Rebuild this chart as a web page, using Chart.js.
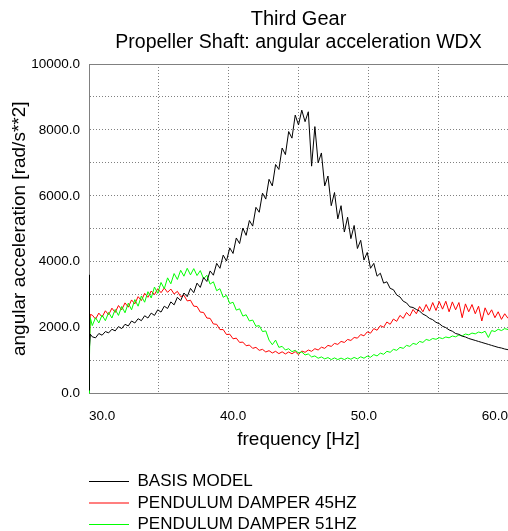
<!DOCTYPE html>
<html>
<head>
<meta charset="utf-8">
<script src="https://cdn.jsdelivr.net/npm/chart.js@4"></script>
<style>
html, body { margin: 0; padding: 0; background: #fff; overflow: hidden; }
#wrap { width: 508px; height: 531px; overflow: hidden; }
</style>
</head>
<body>
<div id="wrap"><canvas id="myChart" width="508" height="543"></canvas></div>
<script>
// frequency [Hz]
var freq = [29, 29.02, 29.05, 29.1,
  29.25, 29.5, 29.75, 30,  30.25, 30.5, 30.75, 31,  31.25, 31.5, 31.75, 32,  32.25, 32.5, 32.75, 33,
  33.25, 33.5, 33.75, 34,  34.25, 34.5, 34.75, 35,  35.25, 35.5, 35.75, 36,  36.25, 36.5, 36.75, 37,
  37.25, 37.5, 37.75, 38,  38.25, 38.5, 38.75, 39,  39.25, 39.5, 39.75, 40,  40.25, 40.5, 40.75, 41,
  41.25, 41.5, 41.75, 42,  42.25, 42.5, 42.75, 43,  43.25, 43.5, 43.75, 44,  44.25, 44.5, 44.75, 45,
  45.25, 45.5, 45.75, 46,  46.25, 46.5, 46.75, 47,  47.25, 47.5, 47.75, 48,  48.25, 48.5, 48.75, 49,
  49.25, 49.5, 49.75, 50,  50.25, 50.5, 50.75, 51,  51.25, 51.5, 51.75, 52,  52.25, 52.5, 52.75, 53,
  53.25, 53.5, 53.75, 54,  54.25, 54.5, 54.75, 55,  55.25, 55.5, 55.75, 56,  56.25, 56.5, 56.75, 57,
  57.25, 57.5, 57.75, 58,  58.25, 58.5, 58.75, 59,  59.25, 59.5, 59.75, 60,  60.25, 60.5, 60.75, 61];

var basisModel = [100, 3600, 1400, 1800,
  1720, 1690, 1820, 1770,  1880, 1840, 1950, 1900,  2030, 1970, 2100, 2050,  2200, 2140, 2270, 2210,
  2360, 2290, 2440, 2370,  2540, 2470, 2650, 2580,  2780, 2690, 2920, 2820,  3050, 2940, 3190, 3060,
  3350, 3220, 3520, 3400,  3720, 3590, 3950, 3800,  4200, 4020, 4420, 4250,  4720, 4550, 5020, 4800,
  5250, 5080, 5650, 5500,  6080, 5900, 6500, 6300,  6950, 6800, 7450, 7250,  7950, 7750, 8450, 8150,
  8600, 8250, 8550, 6900,  8100, 7000, 7300, 6300,  6600, 5700, 6100, 5300,  5700, 4900, 5350, 4700,
  5100, 4400, 4650, 4050,  4280, 3800, 3950, 3560,  3650, 3350, 3390, 3190,  3150, 2990, 2930, 2800,
  2750, 2630, 2610, 2550,  2500, 2410, 2360, 2280,  2240, 2160, 2120, 2040,  2000, 1930, 1890, 1820,
  1795, 1740, 1715, 1670,  1640, 1610, 1580, 1550,  1520, 1490, 1460, 1430,  1400, 1380, 1350, 1330];

var damper45 = [900, 2800, 1600, 2400,
  2380, 2260, 2440, 2320,  2510, 2390, 2590, 2460,  2670, 2540, 2750, 2620,  2840, 2720, 2940, 2820,
  3040, 2920, 3110, 3000,  3180, 3060, 3200, 3070,  3170, 3020, 3100, 2940,  2980, 2810, 2830, 2650,
  2640, 2470, 2460, 2290,  2280, 2110, 2100, 1940,  1940, 1790, 1800, 1660,  1680, 1550, 1560, 1450,
  1470, 1370, 1400, 1310,  1340, 1260, 1300, 1230,  1280, 1210, 1265, 1200,  1260, 1205, 1270, 1180,
  1290, 1250, 1320, 1280,  1360, 1320, 1405, 1370,  1460, 1430, 1520, 1490,  1580, 1550, 1640, 1610,
  1700, 1680, 1790, 1750,  1870, 1830, 1970, 1920,  2060, 2010, 2170, 2100,  2260, 2190, 2370, 2280,
  2460, 2350, 2550, 2420,  2640, 2480, 2700, 2500,  2760, 2520, 2790, 2560,  2800, 2480, 2780, 2540,
  2760, 2300, 2720, 2480,  2700, 2420, 2650, 2200,  2600, 2380, 2540, 2300,  2480, 2250, 2420, 2280];

var damper51 = [0, 3000, 1100, 2300,
  2060, 2300, 2140, 2380,  2210, 2460, 2290, 2550,  2370, 2640, 2450, 2740,  2540, 2850, 2650, 2960,
  2770, 3090, 2900, 3230,  3040, 3370, 3180, 3510,  3330, 3640, 3460, 3740,  3560, 3800, 3600, 3790,
  3580, 3730, 3480, 3590,  3320, 3390, 3120, 3180,  2920, 2980, 2730, 2770,  2530, 2570, 2350, 2390,
  2200, 2230, 2040, 2060,  1880, 1900, 1620, 1480,  1620, 1400, 1430, 1320,  1360, 1270, 1310, 1230,
  1260, 1170, 1200, 1110,  1140, 1070, 1110, 1050,  1090, 1030, 1080, 1030,  1075, 1030, 1080, 1040,
  1095, 1050, 1115, 1070,  1135, 1100, 1180, 1140,  1225, 1190, 1280, 1250,  1340, 1310, 1400, 1370,
  1460, 1430, 1520, 1490,  1580, 1550, 1640, 1610,  1670, 1645, 1695, 1665,  1715, 1690, 1745, 1720,
  1775, 1750, 1805, 1780,  1835, 1810, 1865, 1840,  1890, 1700, 1910, 1880,  1950, 1910, 1970, 1940];

var seriesNames = ['BASIS MODEL', 'PENDULUM DAMPER 45HZ', 'PENDULUM DAMPER 51HZ'];
var xTickLabels = [30, 40, 50, 60];
var xMin = 29, xMax = 61, xGridDivisions = 6;

Chart.defaults.font.family = "'Liberation Sans', Arial, sans-serif";
Chart.defaults.color = '#000';

function pts(values) {
  return freq.map(function (f, i) { return {x: f, y: values[i]}; });
}

// solid frame line along the top of the plot
var frameTop = {
  id: 'frameTop',
  afterLayout: function (chart) {
    // line the legend samples up with the left edge of the plot
    if (chart.legend) chart.legend.left -= chart.legend.options.labels.padding;
  },
  afterDraw: function (chart) {
    var a = chart.chartArea, c = chart.ctx;
    var y = Math.round(a.top) + 0.5;
    c.save();
    c.strokeStyle = '#808080';
    c.lineWidth = 1;
    c.beginPath();
    c.moveTo(a.left, y);
    c.lineTo(a.right, y);
    c.stroke();
    c.restore();
  }
};

var ctx = document.getElementById('myChart');

var myChart = new Chart(ctx, {
  type: 'line',
  data: {
    datasets: [
      { label: seriesNames[0], data: pts(basisModel), borderColor: '#000000', backgroundColor: '#000000', borderWidth: 1, pointRadius: 0, order: 0 },
      { label: seriesNames[1], data: pts(damper45), borderColor: '#ff0000', backgroundColor: '#ff0000', borderWidth: 1, pointRadius: 0, order: 2 },
      { label: seriesNames[2], data: pts(damper51), borderColor: '#00ff00', backgroundColor: '#00ff00', borderWidth: 1, pointRadius: 0, order: 1 }
    ]
  },
  plugins: [frameTop],
  options: {
    responsive: false,
    animation: false,
    events: [],
    layout: { padding: 0 },
    scales: {
      x: {
        type: 'linear',
        min: xMin,
        max: xMax,
        afterBuildTicks: function (scale) {
          var vals = [];
          for (var i = 0; i <= xGridDivisions; i++) vals.push(xMin + i * (xMax - xMin) / xGridDivisions);
          xTickLabels.forEach(function (v) { vals.push(v); });
          vals.sort(function (a, b) { return a - b; });
          scale.ticks = vals.map(function (v) { return {value: v}; });
        },
        afterFit: function (scale) {
          scale.height = 75;
          scale.paddingLeft = 0;
          scale.paddingRight = 0;
        },
        ticks: {
          autoSkip: false,
          maxRotation: 0,
          padding: 15,
          font: { size: 13.5 },
          callback: function (v) { return xTickLabels.indexOf(v) >= 0 ? v.toFixed(1) : ''; }
        },
        grid: {
          drawTicks: false,
          color: function (c) {
            if (c.tick && xTickLabels.indexOf(c.tick.value) >= 0) return 'rgba(0,0,0,0)';
            return '#808080';
          }
        },
        border: { display: true, color: '#808080', dash: [1, 2] },
        title: { display: true, text: 'frequency [Hz]', font: { size: 19 }, padding: { top: 0, bottom: 17.6 } }
      },
      y: {
        min: 0,
        max: 10000,
        afterFit: function (scale) {
          scale.width = 89;
          scale.paddingTop = 0;
          scale.paddingBottom = 0;
        },
        ticks: {
          stepSize: 1000,
          autoSkip: false,
          padding: 9,
          font: { size: 13.5 },
          callback: function (v) { return v % 2000 === 0 ? v.toFixed(1) : ''; }
        },
        grid: { drawTicks: false, color: '#808080' },
        border: { display: true, color: '#808080', dash: [1, 2] },
        title: { display: true, text: 'angular acceleration [rad/s**2]', font: { size: 19 }, padding: { top: 8, bottom: 0 } }
      }
    },
    plugins: {
      title: {
        display: true,
        text: 'Third Gear',
        fullSize: false,
        font: { size: 20, weight: 'normal' },
        padding: { top: 7, bottom: 0 }
      },
      subtitle: {
        display: true,
        text: 'Propeller Shaft: angular acceleration WDX',
        fullSize: false,
        color: '#000',
        font: { size: 19.5, weight: 'normal' },
        padding: { top: 0, bottom: 9.6 }
      },
      legend: {
        position: 'bottom',
        align: 'start',
        fullSize: false,
        labels: {
          boxWidth: 40,
          boxHeight: 1,
          padding: 4.5,
          font: { size: 17 },
          sort: function (a, b) { return a.datasetIndex - b.datasetIndex; },
          generateLabels: function (chart) {
            var items = Chart.defaults.plugins.legend.labels.generateLabels(chart);
            items.forEach(function (it) { it.fillStyle = it.strokeStyle; it.lineWidth = 0; });
            return items;
          }
        }
      },
      tooltip: { enabled: false }
    }
  }
});
</script>
</body>
</html>
